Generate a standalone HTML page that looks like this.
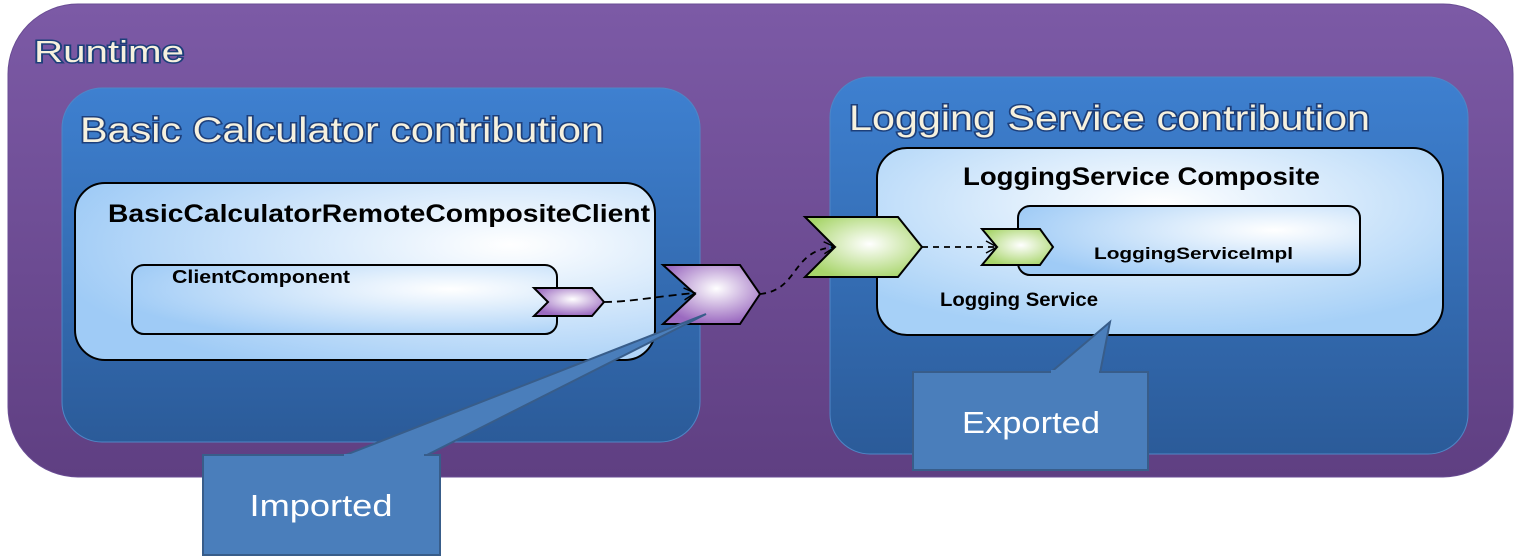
<!DOCTYPE html>
<html><head><meta charset="utf-8"><style>
html,body{margin:0;padding:0;background:#fff}
svg{display:block}
.t{font-family:"Liberation Sans",sans-serif;fill:#f6f1de;stroke:#1d3f7a;stroke-width:3;paint-order:stroke}
.b{font-family:"Liberation Sans",sans-serif;font-weight:bold;fill:#000}
</style></head><body>
<svg width="1518" height="558" viewBox="0 0 1518 558" xmlns="http://www.w3.org/2000/svg">
<defs>
<linearGradient id="pur" x1="0" y1="0" x2="0" y2="1"><stop offset="0" stop-color="#7c5aa6"/><stop offset="1" stop-color="#5f3f82"/></linearGradient>
<linearGradient id="blu" x1="0" y1="0" x2="0" y2="1"><stop offset="0" stop-color="#3e80d0"/><stop offset="1" stop-color="#2b5b99"/></linearGradient>
<radialGradient id="lb" cx="0.75" cy="0.35" r="0.8"><stop offset="0" stop-color="#ffffff"/><stop offset="1" stop-color="#9fcbf6"/></radialGradient>
<radialGradient id="lb2" cx="0.5" cy="0.3" r="0.7"><stop offset="0" stop-color="#ffffff"/><stop offset="1" stop-color="#a6d0f7"/></radialGradient>
<radialGradient id="pc" cx="0.55" cy="0.4" r="0.6"><stop offset="0" stop-color="#ffffff"/><stop offset="1" stop-color="#9b6ac0"/></radialGradient>
<radialGradient id="gc" cx="0.55" cy="0.45" r="0.6"><stop offset="0" stop-color="#ffffff"/><stop offset="1" stop-color="#a8d56b"/></radialGradient>
<marker id="ar" markerWidth="14" markerHeight="14" refX="12" refY="7" orient="auto" markerUnits="userSpaceOnUse"><path d="M1,1 L12,7 L1,13" fill="none" stroke="#000" stroke-width="1.5"/></marker>
</defs>
<rect x="8" y="4" width="1505" height="473" rx="70" fill="url(#pur)" stroke="#6a4d94" stroke-width="1"/>
<text class="t" x="34" y="62" font-size="31" textLength="150" lengthAdjust="spacingAndGlyphs">Runtime</text>

<rect x="62" y="88" width="638" height="354" rx="40" fill="url(#blu)" stroke="#4f86c6" stroke-width="1"/>
<text class="t" x="80" y="142" font-size="35" textLength="524" lengthAdjust="spacingAndGlyphs">Basic Calculator contribution</text>
<rect x="830" y="77" width="638" height="377" rx="40" fill="url(#blu)" stroke="#4f86c6" stroke-width="1"/>
<text class="t" x="849" y="130" font-size="35" textLength="521" lengthAdjust="spacingAndGlyphs">Logging Service contribution</text>

<rect x="75" y="183" width="580" height="177" rx="30" fill="url(#lb)" stroke="#000" stroke-width="2"/>
<text class="b" x="108" y="222" font-size="25" textLength="542" lengthAdjust="spacingAndGlyphs">BasicCalculatorRemoteCompositeClient</text>
<rect x="132" y="265" width="425" height="69" rx="12" fill="url(#lb)" stroke="#000" stroke-width="2"/>
<text class="b" x="172" y="283" font-size="18" textLength="178" lengthAdjust="spacingAndGlyphs">ClientComponent</text>

<rect x="877" y="148" width="566" height="187" rx="30" fill="url(#lb2)" stroke="#000" stroke-width="2"/>
<text class="b" x="963" y="185" font-size="25" textLength="357" lengthAdjust="spacingAndGlyphs">LoggingService Composite</text>
<rect x="1018" y="206" width="342" height="69" rx="12" fill="url(#lb)" stroke="#000" stroke-width="2"/>
<text class="b" x="1094" y="259" font-size="17" textLength="199" lengthAdjust="spacingAndGlyphs">LoggingServiceImpl</text>
<text class="b" x="940" y="306" font-size="19" textLength="158" lengthAdjust="spacingAndGlyphs">Logging Service</text>

<polygon points="534,288 592,288 604,302 592,316 534,316 548,302" fill="url(#pc)" stroke="#000" stroke-width="2"/>
<polygon points="663,265 740,265 760,294 740,324 663,324 695,294" fill="url(#pc)" stroke="#000" stroke-width="2"/>
<polygon points="805,217 898,217 922,247 898,277 805,277 835,247" fill="url(#gc)" stroke="#000" stroke-width="2"/>
<polygon points="982,229 1040,229 1053,247 1040,265 982,265 997,247" fill="url(#gc)" stroke="#000" stroke-width="2"/>

<path d="M604,302 C630,302 660,296 695,293" fill="none" stroke="#000" stroke-width="1.8" stroke-dasharray="8,5" marker-end="url(#ar)"/>
<path d="M760,294 C800,290 790,250 835,247" fill="none" stroke="#000" stroke-width="1.8" stroke-dasharray="6,5" marker-end="url(#ar)"/>
<path d="M922,247 L997,247" fill="none" stroke="#000" stroke-width="1.8" stroke-dasharray="6,5" marker-end="url(#ar)"/>

<polygon points="343,456 706,314 425,456" fill="#4a7ebb" stroke="#385d8a" stroke-width="2"/>
<rect x="203" y="455" width="237" height="100" fill="#4a7ebb" stroke="#385d8a" stroke-width="2"/>
<rect x="344" y="454" width="80" height="4" fill="#4a7ebb"/>
<text x="321" y="516" font-size="31" fill="#fff" text-anchor="middle" font-family="Liberation Sans,sans-serif" textLength="143" lengthAdjust="spacingAndGlyphs">Imported</text>

<polygon points="1050,373 1110,322 1100,373" fill="#4a7ebb" stroke="#385d8a" stroke-width="2"/>
<rect x="913" y="372" width="235" height="98" fill="#4a7ebb" stroke="#385d8a" stroke-width="2"/>
<rect x="1051" y="370" width="48" height="4" fill="#4a7ebb"/>
<text x="1031" y="433" font-size="31" fill="#fff" text-anchor="middle" font-family="Liberation Sans,sans-serif" textLength="138" lengthAdjust="spacingAndGlyphs">Exported</text>
</svg>
</body></html>
